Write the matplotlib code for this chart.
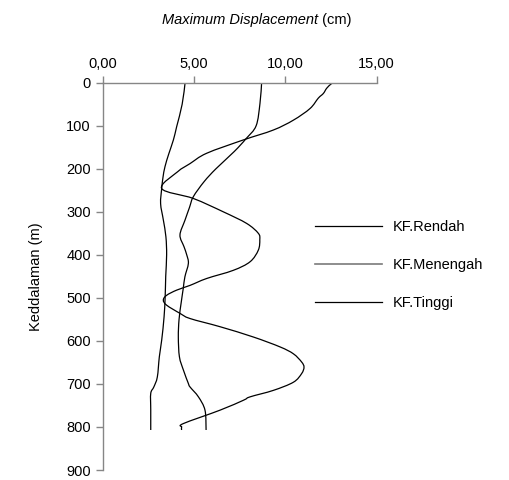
import numpy as np
import matplotlib.pyplot as plt
from matplotlib.path import Path
from matplotlib.patches import PathPatch
from matplotlib.lines import Line2D

plt.rcParams['font.family'] = ['Liberation Sans', 'DejaVu Sans']

# Displacement profiles (cm) against depth (m)
depth_rendah = [0, 50, 102, 133, 165, 195, 220, 246, 281, 319, 358, 400, 450, 497, 544, 598, 637, 684, 707, 722, 760, 807]
disp_rendah = [4.51, 4.35, 4.05, 3.87, 3.62, 3.41, 3.3, 3.23, 3.17, 3.32, 3.46, 3.5, 3.45, 3.42, 3.36, 3.23, 3.1, 2.99, 2.8, 2.63, 2.63, 2.63]

depth_menengah = [0, 48, 100, 130, 160, 200, 230, 265, 290, 320, 354, 381, 400, 420, 451, 478, 510, 550, 591, 637, 668, 699, 707, 730, 761, 807]
disp_menengah = [8.70, 8.61, 8.40, 7.85, 7.2, 6.2, 5.55, 4.96, 4.75, 4.5, 4.23, 4.45, 4.6, 4.69, 4.5, 4.41, 4.3, 4.18, 4.14, 4.2, 4.42, 4.69, 4.78, 5.24, 5.6, 5.66]

depth_tinggi = [0, 3, 13, 25, 36, 60, 87, 110, 133, 164, 188, 207, 246,
                269, 300, 327, 350, 365, 389, 416, 436, 455, 471, 482, 494, 505,
                517, 536, 548, 567, 591, 614, 630, 649, 661, 676, 696, 715, 730,
                738, 761, 792, 800, 807]
disp_tinggi = [12.63, 12.5, 12.26, 12.08, 11.8, 11.35, 10.44, 9.34, 7.7, 5.69, 4.78, 4.1, 3.23,
               4.96, 6.6, 7.88, 8.52, 8.6, 8.52, 8.07, 7.15, 5.69, 4.78, 4.05, 3.5, 3.32,
               3.5, 4.23, 4.78, 6.42, 8.25, 9.71, 10.44, 10.89, 11.02, 10.89, 10.44, 9.34, 8.07,
               7.7, 6.42, 4.42, 4.32, 4.32]

series_names = ['KF.Rendah', 'KF.Menengah', 'KF.Tinggi']
x_ticks = [0, 5, 10, 15]
y_ticks = list(range(0, 901, 100))


def smooth_path(xs, ys):
    # Catmull-Rom style smoothed line through the points, as cubic Bezier segments
    pts = np.column_stack([xs, ys]).astype(float)
    n = len(pts)
    verts = [pts[0]]
    codes = [Path.MOVETO]
    for i in range(n - 1):
        p0 = pts[i - 1] if i > 0 else pts[i]
        p1 = pts[i]
        p2 = pts[i + 1]
        p3 = pts[i + 2] if i + 2 < n else pts[i + 1]
        c1 = p1 + (p2 - p0) / 6.0
        c2 = p2 - (p3 - p1) / 6.0
        verts += [c1, c2, p2]
        codes += [Path.CURVE4] * 3
    return Path(verts, codes)


fig = plt.figure(figsize=(5.1, 4.8), dpi=100)
ax = fig.add_axes([102.7 / 510, 1 - 470 / 480, 274 / 510, 387.3 / 480])

for xs, ys in [(disp_rendah, depth_rendah), (disp_menengah, depth_menengah), (disp_tinggi, depth_tinggi)]:
    ax.add_patch(PathPatch(smooth_path(xs, ys), facecolor='none', edgecolor='black', lw=0.9))

ax.set_xlim(0, 15)
ax.set_ylim(900, 0)
ax.set_xticks(x_ticks)
ax.set_xticklabels([f"{v:.2f}".replace('.', ',') for v in x_ticks])
ax.set_yticks(y_ticks)
ax.xaxis.tick_top()

for side in ['right', 'bottom']:
    ax.spines[side].set_visible(False)
for side in ['top', 'left']:
    ax.spines[side].set_color('#868686')
    ax.spines[side].set_linewidth(1.0)
ax.tick_params(axis='both', colors='#868686', labelcolor='black', labelsize=10.5, length=5, width=1.0, direction='out')

fig.text(318 / 510, 1 - 20 / 480, "Maximum Displacement", style='italic', fontsize=10.5, ha='right', va='center')
fig.text(318 / 510, 1 - 20 / 480, " (cm)", fontsize=10.5, ha='left', va='center')
ax.set_ylabel("Keddalaman (m)", fontsize=10.5, labelpad=17)

handles = [Line2D([], [], color='black', lw=0.9),
           Line2D([], [], color='#7a7a7a', lw=1.2),
           Line2D([], [], color='black', lw=0.9)]
ax.legend(handles, series_names, loc='upper left', bbox_to_anchor=(302 / 510, 1 - 207 / 480),
          bbox_transform=fig.transFigure, frameon=False, fontsize=10.5,
          handlelength=4.6, handletextpad=0.7, labelspacing=1.65)

plt.savefig("out.png", dpi=100)
